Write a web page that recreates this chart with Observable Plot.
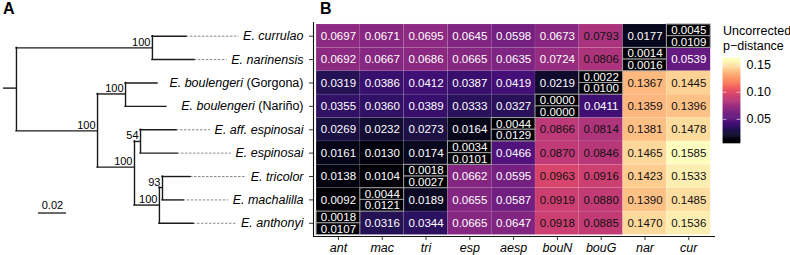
<!DOCTYPE html>
<html><head><meta charset="utf-8">
<script src="https://cdn.jsdelivr.net/npm/d3@7"></script>
<script src="https://cdn.jsdelivr.net/npm/@observablehq/plot@0.6"></script>
<style>
body{margin:0;background:#fff;font-family:"Liberation Sans",Arial,sans-serif;}
#wrap{position:relative;width:790px;height:255px;overflow:hidden;}
#wrap > *{position:absolute;left:0;top:0;}
.panel{font-weight:bold;font-size:16px;color:#000;}
.ltitle{font-size:12.5px;line-height:15px;color:#000;white-space:nowrap;}
</style></head><body><div id="wrap"></div>
<script>
// ---------- data ----------
const cols = ["ant","mac","tri","esp","aesp","bouN","bouG","nar","cur"];
const rowKeys = ["cur","nar","bouG","bouN","aesp","esp","tri","mac","ant"];
const taxonItalic = ["E. currulao","E. narinensis","E. boulengeri","E. boulengeri","E. aff. espinosai","E. espinosai","E. tricolor","E. machalilla","E. anthonyi"];
const taxonPlain = ["","","(Gorgona)","(Nariño)","","","","",""];
const hasLeader = [true,true,false,false,true,true,true,true,true];

// off-diagonal values per row (columns ant..cur); null = diagonal cell
const rowCur  = [0.0697,0.0671,0.0695,0.0645,0.0598,0.0673,0.0793,0.0177,null];
const rowNar  = [0.0692,0.0667,0.0686,0.0665,0.0635,0.0724,0.0806,null,0.0539];
const rowBouG = [0.0319,0.0386,0.0412,0.0387,0.0419,0.0219,null,0.1367,0.1445];
const rowBouN = [0.0355,0.0360,0.0389,0.0333,0.0327,null,0.0411,0.1359,0.1396];
const rowAesp = [0.0269,0.0232,0.0273,0.0164,null,0.0866,0.0814,0.1381,0.1478];
const rowEsp  = [0.0161,0.0130,0.0174,null,0.0466,0.0870,0.0846,0.1465,0.1585];
const rowTri  = [0.0138,0.0104,null,0.0662,0.0595,0.0963,0.0916,0.1423,0.1533];
const rowMac  = [0.0092,null,0.0189,0.0655,0.0587,0.0919,0.0880,0.1390,0.1485];
const rowAnt  = [null,0.0316,0.0344,0.0665,0.0647,0.0918,0.0885,0.1470,0.1536];
// diagonal split cells (per row): upper and lower values
const diagTop    = [0.0045,0.0014,0.0022,0.0000,0.0044,0.0034,0.0018,0.0044,0.0018];
const diagBottom = [0.0109,0.0016,0.0100,0.0000,0.0129,0.0101,0.0027,0.0121,0.0107];

// tree (depth in substitutions/site, row position)
const treeNodes  = ["root","nCN","cur","nar","nA","nBoul","bouG","bouN","nB","n54","aesp","esp","nC","n93","tri","mac","ant"];
const treeParent = [null,"root","nCN","nCN","root","nA","nBoul","nBoul","nA","nB","n54","n54","nB","nC","n93","n93","nC"];
const treeDepth  = [0,0.0971,0.1214,0.1271,0.0579,0.0779,0.1007,0.1071,0.0843,0.0886,0.1143,0.1150,0.1021,0.1043,0.1243,0.1193,0.1264];
const treeRow    = [2.22,0.5,0,1,4.05,2.47,2,3,5.6,4.5,4,5,7.22,6.47,6,7,8];
const bootNodes  = ["nCN","nBoul","nA","n54","nB","n93","nC"];
const bootValues = [100,100,100,54,100,93,100];
const rootEdge = 0.0093;
const scaleBar = {x: 0.0157, len: 0.02, row: 7.56, label: "0.02"};
const legendTicks = [0.05, 0.10, 0.15];

// ---------- derived tables ----------
const matrix = [rowCur,rowNar,rowBouG,rowBouN,rowAesp,rowEsp,rowTri,rowMac,rowAnt];
const offDiag = [];
matrix.forEach((row, r) => row.forEach((v, c) => { if (v !== null) offDiag.push({r, c, v}); }));
const diag = rowKeys.map((k, r) => ({r, c: cols.indexOf(k), top: diagTop[r], bottom: diagBottom[r]}));
const colorDomain = d3.extent(offDiag, d => d.v);

const idx = Object.fromEntries(treeNodes.map((n, i) => [n, i]));
const nodes = treeNodes.map((n, i) => ({id: n, parent: treeParent[i], depth: treeDepth[i], row: treeRow[i]}));
const hEdges = nodes.filter(d => d.parent).map(d => ({x1: nodes[idx[d.parent]].depth, x2: d.depth, y: d.row}));
const vEdges = nodes.filter(n => nodes.some(d => d.parent === n.id)).map(n => {
  const ys = nodes.filter(d => d.parent === n.id).map(d => d.row);
  return {x: n.depth, y1: d3.min(ys), y2: d3.max(ys)};
});
const rootNode = nodes[idx.root];
const boots = bootNodes.map((n, i) => ({x: nodes[idx[n]].depth, y: nodes[idx[n]].row, t: String(bootValues[i])}));

// ---------- layout ----------
const FONT = '"Liberation Sans", Arial, sans-serif';
const xDom = [-0.57, 8.61], yDom = [-0.585, 8.564];
const xTreeDom = [-0.0114, 0.205];
const wrap = document.getElementById("wrap");
const ctx = document.createElement("canvas").getContext("2d");
const tw = (s, style) => { ctx.font = `${style} 12.5px ${FONT}`; return ctx.measureText(s).width; };

// ---------- heatmap ----------
const heat = Plot.plot({
  width: 790, height: 255,
  marginLeft: 313, marginRight: 75, marginTop: 22, marginBottom: 19,
  style: {fontFamily: FONT, background: "transparent", overflow: "visible"},
  x: {domain: xDom, range: [313, 715]},
  y: {domain: yDom, range: [22, 236]},
  color: {type: "sequential", scheme: "magma", domain: colorDomain, clamp: true},
  marks: [
    Plot.rect(offDiag, {x1: d => d.c - 0.5, x2: d => d.c + 0.5, y1: d => d.r - 0.5, y2: d => d.r + 0.5, fill: "v", stroke: "white", strokeOpacity: 0.12, strokeWidth: 0.6}),
    Plot.rect(diag, {x1: d => d.c - 0.5, x2: d => d.c + 0.5, y1: d => d.r - 0.5, y2: d => d.r, fill: "top", stroke: "#a0a0a0", strokeWidth: 1}),
    Plot.rect(diag, {x1: d => d.c - 0.5, x2: d => d.c + 0.5, y1: d => d.r, y2: d => d.r + 0.5, fill: "bottom", stroke: "#a0a0a0", strokeWidth: 1}),
    Plot.text(offDiag.filter(d => d.v <= 0.075), {x: "c", y: "r", text: d => d.v.toFixed(4), fill: "white", fontSize: 11.5}),
    Plot.text(offDiag.filter(d => d.v > 0.075), {x: "c", y: "r", text: d => d.v.toFixed(4), fill: "#111", fontSize: 11.5}),
    Plot.text(diag, {x: "c", y: d => d.r - 0.25, text: d => d.top.toFixed(4), fill: "white", fontSize: 11.5}),
    Plot.text(diag, {x: "c", y: d => d.r + 0.25, text: d => d.bottom.toFixed(4), fill: "white", fontSize: 11.5}),
    Plot.ruleX([xDom[0]], {stroke: "#111", strokeWidth: 1.1}),
    Plot.ruleY([yDom[1]], {stroke: "#111", strokeWidth: 1.1}),
    Plot.axisX({anchor: "bottom", ticks: cols.map((c, i) => i), tickFormat: i => cols[i], tickSize: 4, tickPadding: 3, fontSize: 12.5, fontStyle: "italic", label: null, stroke: "#333", fill: "#000"}),
    Plot.axisY({anchor: "left", ticks: rowKeys.map((k, i) => i), tickFormat: () => "", tickSize: 4, label: null, stroke: "#333"})
  ]
});
wrap.appendChild(heat);

// ---------- tree ----------
const tips = rowKeys.map((k, i) => ({i, k, depth: nodes[idx[k]].depth, row: nodes[idx[k]].row,
  italic: taxonItalic[i], plain: taxonPlain[i], leader: hasLeader[i]}));
const labelMarks = tips.flatMap(t => {
  const plainW = t.plain ? tw(" " + t.plain, "normal") : 0;
  const itW = tw(t.italic, "italic");
  const m = [Plot.text([t], {y: "row", frameAnchor: "right", text: "italic", textAnchor: "end", fontStyle: "italic", fontSize: 12.5, dx: -plainW, fill: "#000"})];
  if (t.plain) m.push(Plot.text([t], {y: "row", frameAnchor: "right", text: "plain", textAnchor: "end", fontSize: 12.5, fill: "#000"}));
  if (t.leader) m.push(Plot.ruleY([t], {y: "row", x1: "depth", x2: () => xTreeDom[1], insetRight: itW + plainW + 4, stroke: "#8a8a8a", strokeWidth: 1, strokeDasharray: "2.5,1.5"}));
  return m;
});
const tree = Plot.plot({
  width: 312, height: 255,
  marginLeft: 0, marginRight: 9, marginTop: 22, marginBottom: 19,
  style: {fontFamily: FONT, background: "transparent", overflow: "visible"},
  x: {domain: xTreeDom, range: [0, 303], axis: null},
  y: {domain: yDom, range: [22, 236], axis: null},
  marks: [
    ...labelMarks,
    Plot.ruleY(hEdges, {y: "y", x1: "x1", x2: "x2", stroke: "#1a1a1a", strokeWidth: 1.4, strokeLinecap: "square"}),
    Plot.ruleX(vEdges, {x: "x", y1: "y1", y2: "y2", stroke: "#1a1a1a", strokeWidth: 1.4, strokeLinecap: "square"}),
    Plot.ruleY([rootNode], {y: "row", x1: d => d.depth - rootEdge, x2: "depth", stroke: "#1a1a1a", strokeWidth: 1.4}),
    Plot.text(boots, {x: "x", y: "y", text: "t", textAnchor: "end", lineAnchor: "bottom", dx: -2, dy: -2, fontSize: 11, fill: "#000"}),
    Plot.ruleY([scaleBar], {y: "row", x1: "x", x2: d => d.x + d.len, stroke: "#1a1a1a", strokeWidth: 1.3}),
    Plot.text([scaleBar], {x: d => d.x + d.len / 2, y: "row", text: "label", lineAnchor: "bottom", dy: -4, fontSize: 11, fill: "#000"})
  ]
});
wrap.appendChild(tree);

// ---------- legend ----------
const nb = 90, ext = (colorDomain[1] - colorDomain[0]) / 40;
const lo = colorDomain[0] - ext, hi = colorDomain[1] + ext, step = (hi - lo) / nb;
const bins = d3.range(nb).map(i => ({a: lo + i * step, b: lo + (i + 1) * step, m: lo + (i + 0.5) * step}));
const legend = Plot.plot({
  width: 75, height: 255, margin: 0,
  style: {fontFamily: FONT, background: "transparent", overflow: "visible"},
  x: {domain: [0, 1], range: [8, 25], axis: null},
  y: {domain: colorDomain, range: [141, 60], axis: null},
  color: {type: "sequential", scheme: "magma", domain: colorDomain, clamp: true},
  marks: [
    Plot.rect(bins, {x1: () => 0, x2: () => 1, y1: "a", y2: "b", fill: "m", inset: -0.3}),
    Plot.ruleY(legendTicks, {y: d => d, x1: () => 0, x2: () => 0.2, stroke: "white", strokeOpacity: 0.6}),
    Plot.ruleY(legendTicks, {y: d => d, x1: () => 0.8, x2: () => 1, stroke: "white", strokeOpacity: 0.6}),
    Plot.text(legendTicks, {y: d => d, x: () => 1, dx: 6, text: d => d.toFixed(2), textAnchor: "start", fontSize: 12.5, fill: "#000"})
  ]
});
legend.style.left = "715px";
wrap.appendChild(legend);

const title = document.createElement("div");
title.className = "ltitle";
title.style.left = "723px"; title.style.top = "24px";
title.innerHTML = "Uncorrected<br>p\u2212distance";
wrap.appendChild(title);

for (const [t, x] of [["A", 3], ["B", 320]]) {
  const d = document.createElement("div");
  d.className = "panel"; d.textContent = t;
  d.style.left = x + "px"; d.style.top = "0px";
  wrap.appendChild(d);
}
</script></body></html>
